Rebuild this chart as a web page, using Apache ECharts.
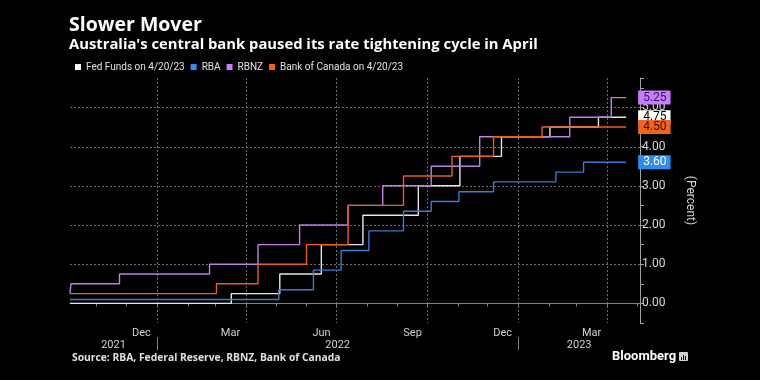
<!DOCTYPE html>
<html><head><meta charset="utf-8">
<script src="https://cdn.jsdelivr.net/npm/echarts@6/dist/echarts.min.js"></script>
<style>html,body{margin:0;padding:0;background:#000;} #c{width:760px;height:380px;}</style>
</head><body><div id="c"></div>
<script>
const seriesNames = ['Fed Funds on 4/20/23', 'RBA', 'RBNZ', 'Bank of Canada on 4/20/23'];
const fedDates = ['2021-10-05','2022-03-17','2022-05-05','2022-06-16','2022-07-28','2022-09-22','2022-11-03','2022-12-15','2023-02-02','2023-03-23','2023-04-20'];
const fedRates = [0, 0.25, 0.75, 1.5, 2.25, 3.0, 3.75, 4.25, 4.5, 4.75, 4.75];
const rbaDates = ['2021-10-05','2022-05-04','2022-06-08','2022-07-06','2022-08-03','2022-09-07','2022-10-05','2022-11-02','2022-12-07','2023-02-08','2023-03-08','2023-04-20'];
const rbaRates = [0.10, 0.35, 0.85, 1.35, 1.85, 2.35, 2.60, 2.85, 3.10, 3.35, 3.60, 3.60];
const rbnzDates = ['2021-10-05','2021-10-06','2021-11-24','2022-02-23','2022-04-13','2022-05-25','2022-07-13','2022-08-17','2022-10-05','2022-11-23','2023-02-22','2023-04-05','2023-04-20'];
const rbnzRates = [0.25, 0.5, 0.75, 1.0, 1.5, 2.0, 2.5, 3.0, 3.5, 4.25, 4.75, 5.25, 5.25];
const bocDates = ['2021-10-05','2022-03-02','2022-04-13','2022-06-01','2022-07-13','2022-09-07','2022-10-26','2022-12-07','2023-01-25','2023-04-20'];
const bocRates = [0.25, 0.5, 1.0, 1.5, 2.5, 3.25, 3.75, 4.25, 4.5, 4.5];
const monthLabels = ['Jan','Feb','Mar','Apr','May','Jun','Jul','Aug','Sep','Oct','Nov','Dec'];
const shownMonths = [2, 5, 8, 11];
const yearLabels = ['2021', '2022', '2023'];
const yearBreaks = ['2022-01-01', '2023-01-01'];
const quarterLines = ['2022-01-01','2022-04-01','2022-07-01','2022-10-01','2023-01-01','2023-04-01'];
const yGridValues = [0, 1, 2, 3, 4, 5];
const xMin = '2021-10-05', xMax = '2023-05-04';
const yMin = -0.5, yMax = 5.75;

const lineColors = ['#e6e6e6', '#3b7bd0', '#c17ee6', '#ea5f1c'];
const badgeBg = ['#ffffff', '#2d8cf0', '#c77dff', '#f26418'];
const badgeFg = ['#000000', '#ffffff', '#3a1050', '#3a1000'];
const FONT = 'Roboto, "Noto Sans", sans-serif';
const TFONT = '"Open Sans", Roboto, sans-serif';

function pairs(d, v) { return d.map((x, i) => [x, v[i]]); }
const allData = [pairs(fedDates, fedRates), pairs(rbaDates, rbaRates), pairs(rbnzDates, rbnzRates), pairs(bocDates, bocRates)];

const chart = echarts.init(document.getElementById('c'));
const series = [];
allData.forEach((d, i) => {
  series.push({
    name: seriesNames[i], type: 'line', step: 'end', data: d, z: 3 + i,
    showSymbol: false, symbol: 'none', animation: false,
    lineStyle: { color: lineColors[i], width: 1.4 },
    itemStyle: { color: badgeBg[i] },
    endLabel: {
      show: true, distance: 12,
      formatter: p => p.value[1].toFixed(2),
      backgroundColor: badgeBg[i], color: badgeFg[i],
      fontFamily: FONT, fontSize: 12, lineHeight: 13, padding: [1, 4, 0, 5]
    }
  });
});

chart.setOption({
  backgroundColor: '#000',
  animation: false,
  title: [
    { text: 'Slower Mover', left: 69, top: 15, padding: 0,
      textStyle: { color: '#fff', fontSize: 19.5, fontWeight: 'bold', fontFamily: TFONT } },
    { text: "Australia's central bank paused its rate tightening cycle in April", left: 69, top: 37, padding: 0,
      textStyle: { color: '#fff', fontSize: 14.8, fontWeight: 'bold', fontFamily: TFONT } }
  ],
  legend: {
    data: seriesNames, left: 75, top: 62, padding: 0, itemWidth: 6, itemHeight: 6, itemGap: 6,
    icon: 'rect', textStyle: { color: '#e0e0e0', fontSize: 10, fontFamily: FONT }
  },
  grid: { left: 70, right: 120, top: 78, bottom: 57, containLabel: false },
  xAxis: {
    type: 'time', min: xMin, max: xMax,
    minInterval: 28 * 864e5, maxInterval: 31 * 864e5,
    axisLine: { show: true, lineStyle: { color: '#808080' } },
    axisTick: { show: true, length: 3, lineStyle: { color: '#808080' } },
    splitLine: { show: false },
    axisLabel: {
      color: '#d0d0d0', fontSize: 11, fontFamily: FONT, margin: 5, hideOverlap: false,
      align: 'center', padding: [0, 0, 0, 30],
      formatter: v => { const m = new Date(v).getMonth(); return shownMonths.includes(m) ? monthLabels[m] : ''; }
    }
  },
  yAxis: {
    type: 'value', position: 'right', min: yMin, max: yMax, interval: 0.5,
    name: '(Percent)', nameLocation: 'middle', nameRotate: -90, nameGap: 44,
    nameTextStyle: { color: '#d0d0d0', fontSize: 12, fontFamily: FONT },
    axisLine: { show: true, lineStyle: { color: '#a0a0a0' } },
    axisTick: { show: true, length: 4, lineStyle: { color: '#a0a0a0' } },
    splitLine: { show: false },
    axisLabel: {
      color: '#d8d8d8', fontSize: 12, fontFamily: FONT, margin: 2,
      formatter: v => (Number.isInteger(v) && v >= 0 && v <= 5) ? v.toFixed(2) : ''
    }
  },
  series: series
});

function tparse(d) { return echarts.time && echarts.time.parse ? +echarts.time.parse(d) : +new Date(d); }
function px(d) { return chart.convertToPixel({ xAxisIndex: 0 }, tparse(d)); }
function py(v) { return chart.convertToPixel({ yAxisIndex: 0 }, v); }
const xL = px(xMin), xR = px(xMax), yT = py(yMax), yB = py(yMin);
const graphics = [];
const gridStyle = { stroke: '#6a6a6a', lineWidth: 1, lineDash: [2, 2] };
yGridValues.forEach(v => {
  const y = Math.round(py(v)) + 0.5;
  graphics.push({ type: 'line', z: 0, silent: true, shape: { x1: xL, y1: y, x2: xR, y2: y }, style: gridStyle });
});
quarterLines.forEach(d => {
  const x = Math.round(px(d)) + 0.5;
  graphics.push({ type: 'line', z: 0, silent: true, shape: { x1: x, y1: yT, x2: x, y2: yB }, style: gridStyle });
});
const bounds = [xMin].concat(yearBreaks, [xMax]).map(px);
yearLabels.forEach((y, i) => {
  graphics.push({ type: 'text', x: (bounds[i] + bounds[i + 1]) / 2, y: 345,
    style: { text: y, fill: '#d0d0d0', font: '11px ' + FONT, textAlign: 'center', textVerticalAlign: 'middle' } });
});
yearBreaks.forEach(d => {
  const x = Math.round(px(d)) + 0.5;
  graphics.push({ type: 'line', shape: { x1: x, y1: 337, x2: x, y2: 350 }, style: { stroke: '#808080', lineWidth: 1 } });
});
graphics.push({ type: 'text', x: 72, y: 358,
  style: { text: 'Source: RBA, Federal Reserve, RBNZ, Bank of Canada', fill: '#e0e0e0', font: 'bold 10.3px ' + TFONT, textVerticalAlign: 'middle' } });
graphics.push({ type: 'text', x: 612, y: 357,
  style: { text: 'Bloomberg', fill: '#ffffff', font: 'bold 13px ' + FONT, textVerticalAlign: 'middle' } });
graphics.push({ type: 'rect', shape: { x: 679, y: 352, width: 9, height: 9, r: 1 }, style: { fill: '#d0d0d0' } });
[[681, 357, 1, 3], [683, 355, 1, 5], [685, 356, 1, 4]].forEach(b => {
  graphics.push({ type: 'rect', shape: { x: b[0], y: b[1], width: b[2], height: b[3] }, style: { fill: '#000' } });
});
chart.setOption({ graphic: graphics });
</script></body></html>
